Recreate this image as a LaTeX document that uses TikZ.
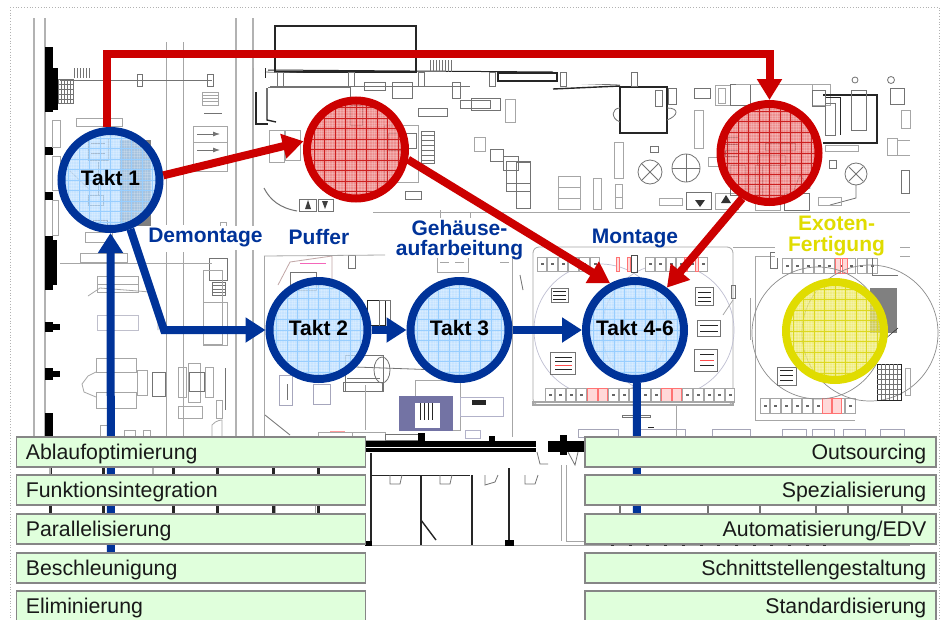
\documentclass[tikz,border=0pt]{standalone}
\usepackage{fontspec}
\setmainfont{Liberation Sans}
\usetikzlibrary{arrows.meta}
\definecolor{tblue}{HTML}{003399}
\definecolor{tred}{HTML}{CC0000}
\definecolor{tyel}{HTML}{E0DC00}
\definecolor{boxg}{HTML}{E0FFDC}
\definecolor{boxb}{HTML}{868686}
\definecolor{fblue}{HTML}{B4DAFF}
\definecolor{gblue}{HTML}{98CEFF}
\definecolor{fred}{HTML}{E86A6A}
\definecolor{gred}{HTML}{CC2020}
\definecolor{fyel}{HTML}{ECE85A}
\definecolor{gyel}{HTML}{DCD820}
\newcommand{\gridpic}[2]{%
  \foreach \k in {-20,...,20}{%
    \draw[#2,draw opacity=.18,line width=.5pt] ([xshift=\k*2.65pt,yshift=-60pt]path picture bounding box.center) -- ++(0,-120);
    \draw[#2,draw opacity=.18,line width=.5pt] ([yshift=\k*2.65pt,xshift=-60pt]path picture bounding box.center) -- ++(120,0);
  }%
  \foreach \k in {-5,...,5}{%
    \draw[#1,draw opacity=1,line width=.45pt] ([xshift=\k*10.5pt,yshift=60pt]path picture bounding box.center) -- ++(0,120);
    \draw[#1,draw opacity=1,line width=.45pt] ([yshift=\k*10.5pt,xshift=-60pt]path picture bounding box.center) -- ++(120,0);
  }}
\tikzset{
  pg/.style={draw=black!35,line width=.8pt},
  pm/.style={draw=black!55,line width=.8pt},
  pk/.style={draw=black!85,line width=1pt},
  pw/.style={draw=black!30,line width=1.6pt},
  pb/.style={fill=black,draw=none},
  takt/.style={circle,minimum size=98pt,inner sep=0pt,line width=8pt,font=\bfseries\fontsize{21}{21}\selectfont,text=black,fill opacity=.75,text opacity=1,draw opacity=1,text height=14pt,text depth=4pt},
  bluec/.style={takt,draw=tblue,fill=fblue,path picture={\gridpic{gblue}{white}}},
  redc/.style={takt,draw=tred,fill=fred,path picture={\gridpic{gred}{white}}},
  yelc/.style={takt,draw=tyel,fill=fyel,path picture={\gridpic{gyel}{white}}},
  redl/.style={draw=tred,line width=8pt},
  bluel/.style={draw=tblue,line width=8pt},
  redarr/.style={redl,-{Triangle[width=24pt,length=21pt]}},
  bluearr/.style={bluel,-{Triangle[width=24pt,length=20pt]}},
  lab/.style={font=\bfseries\fontsize{21}{20}\selectfont,text=tblue,inner sep=1pt,align=center},
  ylab/.style={lab,text=tyel,font=\bfseries\fontsize{21}{21}\selectfont},
  lbox/.style={draw=boxb,line width=1.7pt,fill=boxg,minimum height=30pt,text width=330pt,inner xsep=9.5pt,inner ysep=0pt,align=flush left,anchor=west,font=\fontsize{21.3}{21.3}\selectfont,text=black!90,text height=14.5pt,text depth=0pt},
  rbox/.style={lbox,align=flush right,text width=332pt},
}
\begin{document}
\begin{tikzpicture}[x=1pt,y=-1pt]
\useasboundingbox (0,0) rectangle (943,619);
\fill[white] (0,0) rectangle (943,619);
\clip (0,0) rectangle (943,619);
\draw[black!30,line width=.8pt,dotted] (10,7) -- (939,7) -- (939,619);
\draw[black!30,line width=.8pt,dotted] (10,7) -- (10,619);

% ---------- floor plan ----------
\foreach \x in {34,45,236,253} \draw[pw] (\x,18) -- (\x,437);
\foreach \x in {166,183} {\draw[pg] (\x,42) -- (\x,225); \draw[pg] (\x,252) -- (\x,437);}
\draw[pg] (264,256) -- (264,437);
\draw[pg] (253,68) -- (253,120);
\foreach \a/\b in {47/112,147/155,192/200,236/290,322/332,368/380,413/437} \fill[pb] (45,\a) rectangle (53,\b);
\fill[pb] (53,68) rectangle (58,110); \fill[pb] (53,240) rectangle (57,285);
\fill[pb] (53,324) rectangle (60,330); \fill[pb] (53,371) rectangle (60,377);
% top-left
\draw[pk,line width=1.4pt] (275,26) rectangle (416,72);
\draw[pm] (60,80) -- (212,80);
\draw[pm] (58,79) rectangle (73,103);
\foreach \x in {58,61,...,73} \draw[pm] (\x,79) -- (\x,103);
\foreach \y in {84,89,94,99} \draw[pm] (58,\y) -- (73,\y);
\foreach \x in {74,77,...,91} \draw[pm] (\x,68) -- (\x,78);
\draw[pm] (137,74) rectangle (142,86); \draw[pm] (207,74) rectangle (213,86);
\draw[pg] (202,92) rectangle (218,105); \foreach \y in {95,98,101} \draw[pg] (202,\y) -- (218,\y);
\draw[pm] (204,113) -- (222,113);
\draw[pg] (193,126) rectangle (227,171); \draw[pg] (193,142) -- (227,142);
\draw[-{Latex[length=7pt,width=5pt]},pm] (197,134) -- (220,134);
\draw[-{Latex[length=7pt,width=5pt]},pm] (197,150) -- (220,150);
\draw[pg] (76,118) rectangle (122,126);
\draw[pg] (52,120) rectangle (60,147); \draw[pg] (52,156) rectangle (60,190); \draw[pg] (52,200) rectangle (58,235);
\draw[pg] (85,232) rectangle (112,242); \draw[pg] (80,253) rectangle (127,262);
\draw[pg] (220,222) rectangle (226,226);
\draw[pm] (209,258) rectangle (227,280); \draw[pm] (212,282) rectangle (225,295);
\foreach \y in {285,289,292} \draw[pm] (212,\y) -- (225,\y);
\draw[pg] (203,302) rectangle (227,345);
% centre-top
\draw[pm] (265,72) -- (620,85);
\draw[pk] (268,70) -- (553,72); \fill[white] (268,73) rectangle (760,84);
\draw[pk] (265,68) -- (265,78);
\draw[pm] (270,86) -- (470,86);
\draw[pk,line width=1.4pt] (256,92) -- (256,124) -- (268,124);
\draw[pk,line width=1.4pt] (267,88) -- (267,120) -- (276,122);
\draw[pm] (268,87) -- (350,87) -- (350,98);
\foreach \x in {280,351,421} \draw[pm] (\x-3,72) rectangle (\x+3,86);
\foreach \x in {430,433,...,452} \draw[pm] (\x,60) -- (\x,72);
\draw[pm] (364,82) rectangle (385,90); \draw[pm] (392,82) rectangle (412,98);
\draw[pm] (452,82) rectangle (460,98); \draw[pm] (460,100) rectangle (490,108);
\draw[pm] (418,108) rectangle (447,116);
\draw[pg] (269,130) rectangle (284,162); \draw[pg] (285,130) rectangle (300,160);
\draw[pm] (405,133) rectangle (416,148); \draw[pm] (421,131) rectangle (434,163);
\foreach \y in {135,140,...,160} \draw[pm] (421,\y) -- (434,\y);
\draw[pg] (384,125) rectangle (418,182); \draw[pm] (405,191) rectangle (421,199);
\draw[pm,line width=1pt] (264,188) .. controls (270,200) and (280,208) .. (297,211);
\draw[pm] (299,199) rectangle (316,211); \draw[pm] (318,199) rectangle (333,211);
\fill[black!75] (305,209) -- (308,200) -- (311,209) -- cycle; \fill[black!75] (322,201) -- (328,201) -- (325,209) -- cycle;
\draw[pg] (373,212) -- (910,212);
\draw[pg] (440,210) -- (440,225);
\draw[pg] (60,263) -- (212,263);
% top middle right
\draw[pk,line width=1.2pt] (498,73) rectangle (557,81);
\draw[pk,line width=1.4pt] (553,89) -- (620,86);
\draw[pk,line width=2.6pt] (620,87) rectangle (667,133);
\draw[pm] (655,90) rectangle (662,106); \draw[pm] (668,88) rectangle (676,104);
\draw[pm] (620,108) .. controls (612,108) and (610,118) .. (620,122);
\draw[pm] (667,108) .. controls (680,108) and (678,116) .. (667,120);
\foreach \x in {492,563,634} \draw[pm] (\x-3,72) rectangle (\x+3,86);
\draw[pm] (471,98) rectangle (500,110); \draw[pg] (505,99) rectangle (515,122);
\draw[pg] (474,137) rectangle (485,151); \draw[pm] (490,149) rectangle (503,161); \draw[pm] (503,156) rectangle (518,170);
\draw[pm] (506,161) rectangle (530,191); \draw[pm] (516,162) rectangle (530,208);
\draw[pm] (507,183) -- (530,183);
\draw[pg] (558,176) rectangle (580,209); \draw[pg] (558,187) -- (580,187); \draw[pg] (558,198) -- (580,198);
\draw[pg] (593,178) rectangle (601,209); \draw[pg] (614,142) rectangle (623,178);
\draw[pg] (615,184) rectangle (622,208); \draw[pg] (615,197) -- (622,197);
\draw[pg] (694,110) rectangle (703,148);
\draw[pm] (650,146) rectangle (658,152);
\draw[pm] (650,172) circle (12); \draw[pm] (642,164) -- (658,180); \draw[pm] (658,164) -- (642,180);
\draw[pm] (686,168) circle (14); \draw[pm] (686,154) -- (686,182); \draw[pm] (672,168) -- (700,168);
\draw[pg] (708,157) rectangle (720,166);
\draw[pg] (659,198) rectangle (682,205); \draw[pm] (686,192) rectangle (711,209); \draw[pg] (715,193) rectangle (738,209);
\fill[black!80] (695,200) -- (705,200) -- (700,207) -- cycle; \fill[black!80] (721,203) -- (731,203) -- (726,195) -- cycle;
\draw[pg] (755,199) rectangle (780,210); \draw[pm] (784,193) rectangle (809,210);
\draw[pg] (718,88) rectangle (725,103); \draw[pm] (694,88) rectangle (710,98);
\draw[pg] (715,85) rectangle (730,105);
\draw[pm] (730,84) rectangle (750,105); \draw[pg] (736,84) -- (812,84);
\draw[pg] (812,84) rectangle (830,105);
% upper right
\draw[pk,line width=1.2pt] (823,95) -- (877,95) -- (877,143) -- (823,143);
\draw[pk] (825,97) -- (840,97) -- (840,135); \draw[pm] (825,103) rectangle (835,135);
\draw[pm] (851,90) rectangle (866,130); \draw[pm] (812,90) rectangle (825,106);
\draw[pm] (855,80) circle (3); \draw[pm] (891,80) circle (3.5);
\draw[pm] (890,88) rectangle (904,104); \draw[pg] (901,110) rectangle (910,128);
\draw[pg] (887,138) rectangle (897,155); \draw[pg] (897,140) -- (910,140); \draw[pg] (897,155) -- (910,155);
\draw[pg] (825,145) rectangle (858,151); \draw[pm] (829,160) rectangle (836,168);
\draw[pm] (856,174) circle (11); \draw[pm] (849,167) -- (863,181); \draw[pm] (863,167) -- (849,181);
\draw[pm] (856,185) -- (856,198) -- (830,205);
\draw[pg] (818,197) rectangle (841,205);
\draw[pm] (901,170) rectangle (909,193);
% white band for labels, central rows
\draw[pg] (470,212) -- (470,250);
\draw[pg] (733,247) -- (910,247);
% puffer zone
\draw[pm,draw=red!30!black!35] (278,285) -- (290,262) -- (332,256) -- (332,290);
\draw[magenta!60,line width=.8pt] (300,263) -- (326,263);
\draw[pm] (348,255) rectangle (355,268); \draw[pg] (264,256) -- (385,255);
\draw[pm] (290,272) rectangle (316,290);
\draw[pg] (437,255) rectangle (468,272); \foreach \x in {440,455,500} \draw[pg] (\x,262) -- (\x+9,262);
\draw[pk] (367,300) rectangle (385,325); \draw[pm] (379,300) rectangle (390,330);
\draw[pm] (345,355) rectangle (383,391);
\draw[pm] (343,382) rectangle (382,391); \draw[pm] (347,378) -- (380,378);
\draw[pm] (382,370) ellipse (8 and 13);
\draw[pm] (355,367) -- (440,370);
\draw[pg,draw=blue!25!black!35] (279,375) rectangle (292,405); \draw[pg,draw=blue!25!black!35] (313,384) rectangle (330,404);
\draw[pm] (287,384) -- (287,400);
\draw[pg] (365,385) -- (365,430);
\draw[pm] (265,415) -- (290,435); \draw[pg] (415,380) rectangle (460,430);
% hatched block
\fill[blue!35!black!55] (399,396) rectangle (453,431);
\fill[white] (415,403) rectangle (440,428);
\foreach \x in {420,424,...,432} \draw[pk] (\x,403) -- (\x,420);
\draw[pg,draw=blue!30!black!30] (460,397) rectangle (503,416);
\fill[black!85] (472,400) rectangle (486,405);
\draw[pg,draw=blue!30!black!30] (465,438) rectangle (480,430);
\draw[pg] (318,432) rectangle (352,440); \draw[red!40,line width=.8pt] (330,431) -- (345,431);
\draw[pg] (352,432) rectangle (385,440); \draw[pm] (385,434) rectangle (418,440);
% left-bottom machines
\draw[pg] (97,276) rectangle (138,292); \draw[pg] (97,284) -- (138,284);
\draw[pg] (88,296) -- (100,288) -- (150,292) -- (158,300) -- (158,330);
\draw[pg,draw=blue!20!black!25] (97,315) rectangle (138,330);
\draw[pg] (96,358) rectangle (136,372);
\draw[pg] (96,392) rectangle (136,408);
\draw[pg] (96,372) -- (88,376) -- (82,384) -- (84,392) -- (96,397);
\draw[pg] (137,370) rectangle (147,395); \draw[pm] (152,372) rectangle (165,396);
\draw[pg] (178,367) rectangle (186,397); \draw[pg] (205,367) rectangle (213,397);
\draw[pg] (188,363) rectangle (200,402); \draw[pm] (189,372) rectangle (204,391);
\draw[pg] (178,406) rectangle (202,418); \draw[pg] (216,400) rectangle (222,418);
\draw[pg] (203,270) rectangle (222,344);
\draw[pm] (225,368) -- (225,410);
\draw[pg] (212,425) .. controls (216,420) and (222,420) .. (222,420) -- (222,437) -- (212,437) -- cycle;
\draw[pg] (100,425) rectangle (108,437); \draw[pg] (124,430) rectangle (135,437); \draw[pg] (143,430) rectangle (150,437);
% montage cell
\draw[pg,rounded corners=6pt] (533,247) rectangle (733,405);
\draw[blue!30!black!25,line width=.7pt] (600,330) circle (66);
\draw[blue!30!black!25,line width=.7pt] (668,330) circle (66);
\foreach \r/\sh in {0/0,0/108} {
 \foreach \x in {0,1,...,5} {\draw[pg,fill=white] (537+\x*10.6+\sh,257) rectangle +(9.5,14); \fill[black!60] (540.5+\x*10.6+\sh,263) rectangle +(3,2);}
}
\foreach \x in {0,...,17} {\draw[pg,fill=white] (545+\x*10.6,388) rectangle +(9.5,14); \fill[black!60] (548.5+\x*10.6,394) rectangle +(3,2);}
\foreach \x in {4,5,11,12} \draw[red!55,line width=.8pt,fill=red!15] (545+\x*10.6,388) rectangle +(9.5,14);
\foreach \x in {4,5} \draw[red!55,line width=.8pt,fill=red!15] (577+\x*10.6,257) rectangle +(-3,14);
\foreach \x in {4,5} \draw[red!55,line width=.8pt,fill=red!15] (645+\x*10.6,257) rectangle +(-3,14);
\draw[black!70,line width=1pt] (631,255) rectangle (637,272);
\draw[pg,line width=1.4pt] (533,402) rectangle (733,405);
\draw[pm] (551,288) rectangle (568,302); \foreach \y in {291,295,299} \draw[pk] (553,\y) -- (566,\y);
\draw[pm] (550,352) rectangle (575,374); \draw[red!70,line width=1pt] (555,365) -- (572,365); \foreach \y in {357,361,369} \draw[pk] (555,\y) -- (572,\y);
\draw[pm] (697,320) rectangle (720,336); \foreach \y in {325,331} \draw[pk] (700,\y) -- (718,\y);
\draw[pm] (694,349) rectangle (717,371); \draw[red!70,line width=1pt] (700,360) -- (714,360); \foreach \y in {354,365} \draw[pk] (700,\y) -- (714,\y);
\draw[pm] (695,287) rectangle (713,305); \foreach \y in {292,297,301} \draw[pk] (698,\y) -- (711,\y);
\draw[pm] (520,275) -- (523,290); \draw[pm] (731,285) rectangle (735,298);
\draw[pg] (525,230) -- (525,258);
\draw[pg] (512,250) -- (512,437);
\draw[pg] (723,315) -- (733,300);
\draw[pm] (622,415) rectangle (650,417);
\draw[pg] (676,405) -- (676,437);
% exoten cell
\draw[pg,rounded corners=6pt] (755,256) -- (910,256);
\draw[pg] (755,256) -- (755,420) -- (855,420);
\draw[pm] (770,252) rectangle (777,268);
\foreach \x in {0,...,8} {\draw[pg,fill=white] (782+\x*10.7,258) rectangle +(9.5,15); \fill[black!60] (785.5+\x*10.7,265) rectangle +(3,2);}
\foreach \x in {3,4} \draw[red!55,line width=.8pt,fill=red!15] (816+\x*6.5,258) rectangle +(5,15);
\draw[pm] (872,255) -- (872,275) -- (898,275);
\foreach \x in {0,...,8} {\draw[pg,fill=white] (760+\x*10.7,398) rectangle +(9.5,15); \fill[black!60] (763.5+\x*10.7,405) rectangle +(3,2);}
\foreach \x in {3,4} \draw[red!55,line width=.8pt,fill=red!15] (790+\x*10.7,398) rectangle +(9,15);
\draw[black!45,line width=.7pt] (818,333) circle (66);
\draw[black!45,line width=.7pt] (870,333) circle (68);
\fill[black!50] (870,288) rectangle (897,333);
\draw[pm] (777,367) rectangle (796,385); \foreach \y in {370,375,380} \draw[pk] (780,\y) -- (793,\y);
\draw[pk] (877,364) rectangle (901,400); \foreach \x in {881,885,...,897} \draw[pm] (\x,364) -- (\x,400);
\foreach \y in {369,374,...,395} \draw[pm] (877,\y) -- (901,\y);
\draw[pg] (905,368) rectangle (910,395);
\draw[pg] (750,298) -- (750,340); \draw[pk,line width=.5pt] (878,345) -- (898,328);
% lower row above boxes
\foreach \x/\w in {578/40,635/50,712/38,782/24,812/22,843/22,880/24} \draw[pg,draw=blue!20!black!35] (\x,429) rectangle +(\w,8);
\draw[pk] (648,427) -- (654,427);
% bottom band
\fill[black] (364,441) rectangle (536,452); \fill[black] (548,441) rectangle (584,452);
\fill[black] (418,433) rectangle (425,452); \fill[black] (489,436) rectangle (495,452); \fill[black] (560,435) rectangle (567,455);
\draw[white,line width=.7pt] (364,447) -- (536,447);
\draw[pg,line width=1pt] (365,545) -- (910,545);
\foreach \a/\b in {371/453,421/475,472/475,509/468} \draw[black!85,line width=1.4pt] (\a,\b) -- (\a,545);
\draw[black!85,line width=1pt] (371,475) -- (470,475);
\draw[black!85,line width=1.4pt] (421,520) -- (436,540);
\fill[black] (365,541) rectangle (372,546);
\fill[black] (505,540) rectangle (514,546);
\draw[pg,line width=1pt] (561,465) -- (561,541); \draw[pg,line width=1pt] (566,465) -- (566,541) -- (584,541);
\draw[pm] (390,475) -- (390,484) -- (400,484) -- (402,475);
\draw[pm] (440,475) -- (440,484) -- (450,484) -- (452,475);
\draw[pm] (485,475) -- (485,485) -- (495,482) -- (498,475);
\draw[pm] (525,475) -- (525,484) -- (535,484) -- (538,475);
\draw[pm] (537,452) -- (540,464) -- (548,464);
\draw[pm] (568,452) -- (575,465) -- (578,452);
\foreach \x in {50,103,173,217,273,318} \fill[black!85] (\x-1.5,467) rectangle (\x+1.5,475);
\foreach \x in {50,103,173,217,273,318} \fill[black!85] (\x-1.5,505) rectangle (\x+1.5,514);
\foreach \x in {50,153} \fill[black!30] (\x-.8,467) rectangle (\x+.8,475);
\foreach \x in {620,708,760,816,848,902} \fill[black!55] (\x-.8,505) rectangle (\x+.8,514);
\draw[pg] (275,505) rectangle (315,514);
\foreach \x in {0,...,12} \fill[black!80] (611+\x*17.7,544) rectangle +(3,2);

% white label bands
\fill[white] (140,226) rectangle (266,250);
\fill[white] (285,226) rectangle (352,250);
\fill[white] (392,218) rectangle (526,258);
\fill[white] (575,213) rectangle (695,246);
\fill[white] (775,213) rectangle (900,258);

% dark zone seen through Takt 1
\fill[black!50] (120,140) rectangle (151,226);
\draw[pm] (88,138) rectangle (108,160);
\foreach \y in {143,148,153} \draw[pk] (91,\y) -- (105,\y);
\draw[pm] (88,195) rectangle (103,205);
\draw[pm] (98,162) -- (98,195);
\draw[pg] (70,171) -- (90,190);
\draw[pk] (93,220) rectangle (107,225);

% red circle content
\draw[pm] (350,105) rectangle (362,125);
\draw[pm] (388,133) rectangle (402,150);
\draw[pk] (725,137) rectangle (738,144); \draw[pk] (725,150) rectangle (738,156);
\draw[pm] (765,143) rectangle (795,150); \draw[pm] (757,155) rectangle (785,165);
\draw[pm] (755,165) rectangle (762,195); \draw[pm] (730,165) rectangle (745,195);
\draw[pm] (800,175) -- (792,195) -- (810,188) -- cycle;

% ---------- stations ----------
\node[bluec] (t1) at (110.5,180) {Takt 1};
\node[redc] (r1) at (356,149.5) {};
\node[redc] (r2) at (769.5,153) {};
\node[bluec] (t2) at (318.5,330) {Takt 2};
\node[bluec] (t3) at (459.5,330) {Takt 3};
\node[bluec] (t4) at (635,330) {Takt 4-6};
\node[yelc] (y1) at (835,331) {};

% ---------- labels ----------
\node[lab] (lde) at (205.5,237) {Demontage};
\node[lab] (lpu) at (319,236.5) {Puffer};
\node[lab] (lge) at (459.5,240) {Gehäuse-\\aufarbeitung};
\node[lab] (lmo) at (635,238) {Montage};
\node[ylab] (lex) at (836.5,236.4) {Exoten-\\Fertigung};

% ---------- connectors ----------
\coordinate (rc) at (769.5,54);
\coordinate (bc) at (164,330);
\coordinate (bl) at (111,560);
\coordinate (br) at (637,520);
\draw[redarr] (t1.94) |- (rc) -- (r2.north);
\draw[redarr] (t1.5) -- (r1.171);
\draw[redarr] (r1.-11) -- (t4.118);
\draw[redarr] (r2.-121) -- (t4.53);
\draw[bluearr] (bl) -- (t1.-90);
\draw[bluel] (t4.-88) -- (br);
\draw[bluearr] (t1.-68) -- (bc) -- (t2.west);
\draw[bluearr] (t2.east) -- (t3.west);
\draw[bluearr] (t3.east) -- (t4.west);

% ---------- measure boxes ----------
\node[lbox] (a1) at (15.5,452) {Ablaufoptimierung};
\node[lbox] (a2) at (15.5,490) {Funktionsintegration};
\node[lbox] (a3) at (15.5,529) {Parallelisierung};
\node[lbox] (a4) at (15.5,568) {Beschleunigung};
\node[lbox] (a5) at (15.5,606) {Eliminierung};
\node[rbox] (b1) at (584,452) {Outsourcing};
\node[rbox] (b2) at (584,490) {Spezialisierung};
\node[rbox] (b3) at (584,529) {Automatisierung/EDV};
\node[rbox] (b4) at (584,568) {Schnittstellengestaltung};
\node[rbox] (b5) at (584,606) {Standardisierung};
\end{tikzpicture}
\end{document}
